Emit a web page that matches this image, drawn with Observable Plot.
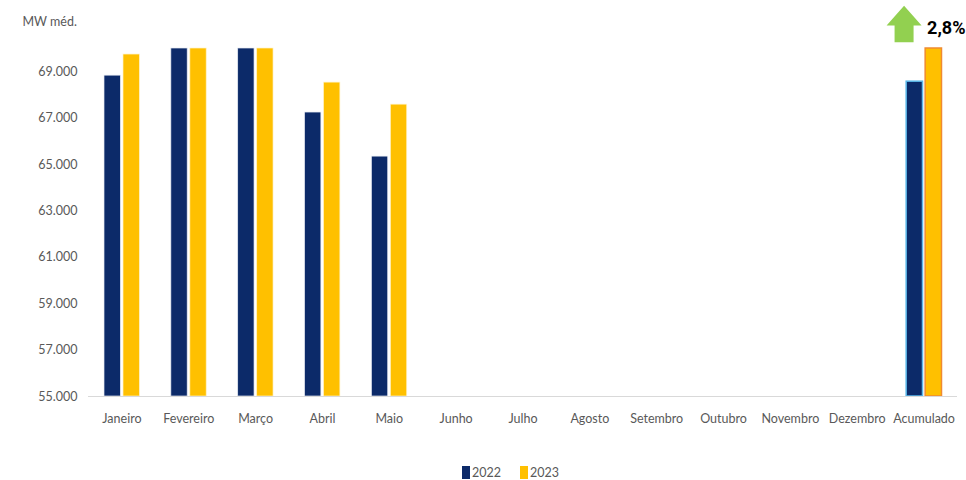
<!DOCTYPE html>
<html>
<head>
<meta charset="utf-8">
<script src="https://cdn.jsdelivr.net/npm/d3@7"></script>
<script src="https://cdn.jsdelivr.net/npm/@observablehq/plot@0.6"></script>
<style>
  body { margin: 0; background: #fff; font-family: Lato, "Liberation Sans", sans-serif; }
  #legend { display: flex; align-items: center; height: 44px; padding-left: 462px; font-size: 12.5px; color: #595959; }
  #legend .sw { display: inline-block; width: 8px; height: 13px; margin-right: 2px; }
  #legend .item { display: flex; align-items: center; margin-right: 19px; }
</style>
</head>
<body>
<div id="chart"></div>
<div id="legend"></div>
<script>
const months = ["Janeiro","Fevereiro","Março","Abril","Maio","Junho","Julho","Agosto","Setembro","Outubro","Novembro","Dezembro","Acumulado"];
const dataMonths = ["Janeiro","Fevereiro","Março","Abril","Maio","Acumulado"];
const values2022 = [68830, 70600, 70800, 67240, 65340, 68570];
const values2023 = [69740, 72900, 73700, 68530, 67580, 70490];
const years = ["2022", "2023"];
const yTicks = [55000, 57000, 59000, 61000, 63000, 65000, 67000, 69000];
const yDomain = [55000, 70000];
const changeLabel = "2,8%";
const yLabel = "MW méd.";
const colors = {"2022": "#0c2a69", "2023": "#ffc000"};
const accentStroke = {"2022": "#5bb8ea", "2023": "#f08a30"};

const rows2022 = dataMonths.map((m, i) => ({month: m, year: "2022", value: values2022[i]}));
const rows2023 = dataMonths.map((m, i) => ({month: m, year: "2023", value: values2023[i]}));

const ptbr = d3.formatLocale({decimal: ",", thousands: ".", grouping: [3], currency: ["R$", ""]});
const fmt = ptbr.format(",");

const arrowSymbol = {
  draw(context, size) {
    const r = Math.sqrt(size / Math.PI);
    const k = r / 18;
    context.moveTo(0, -18 * k);
    context.lineTo(17.5 * k, 1.7 * k);
    context.lineTo(9.5 * k, 1.7 * k);
    context.lineTo(9.5 * k, 18.5 * k);
    context.lineTo(-9.5 * k, 18.5 * k);
    context.lineTo(-9.5 * k, 1.7 * k);
    context.lineTo(-17.5 * k, 1.7 * k);
    context.closePath();
  }
};

const chart = Plot.plot({
  width: 966,
  height: 450,
  marginLeft: 88,
  marginRight: 9,
  marginTop: 48,
  marginBottom: 54,
  style: {fontSize: "12.5px", fontFamily: "Lato, 'Liberation Sans', sans-serif", color: "#595959", background: "#fff"},
  x: {domain: months, padding: 0, round: false, label: null, tickSize: 0, tickPadding: 18},
  y: {domain: yDomain, clamp: true, ticks: yTicks, tickFormat: fmt, label: null, tickSize: 0, tickPadding: 11},
  marks: [
    Plot.barY(rows2022, {x: "month", y: "value", fill: colors["2022"], insetLeft: 16, insetRight: 34.5,
      stroke: d => d.month === "Acumulado" ? accentStroke["2022"] : "#e8ecf4", strokeWidth: d => d.month === "Acumulado" ? 1.5 : 0.7}),
    Plot.barY(rows2023, {x: "month", y: "value", fill: colors["2023"], insetLeft: 35, insetRight: 15.5,
      stroke: d => d.month === "Acumulado" ? accentStroke["2023"] : "#fff3c8", strokeWidth: d => d.month === "Acumulado" ? 1.5 : 0.7}),
    Plot.ruleY([yDomain[0]], {stroke: "#d9d9d9", strokeWidth: 1}),
    Plot.dot([{month: "Acumulado"}], {x: "month", frameAnchor: "top", dx: -20, dy: -24.7, r: 18, symbol: arrowSymbol, fill: "#92d050", stroke: "none"}),
    Plot.text([changeLabel], {x: () => "Acumulado", text: d => d, frameAnchor: "top", lineAnchor: "middle", dx: 3, dy: -20.5, textAnchor: "start", fontSize: 18, fontWeight: "bold", fontFamily: "Roboto, 'Liberation Sans', sans-serif", fill: "#000"}),
    Plot.text([yLabel], {frameAnchor: "top-left", lineAnchor: "middle", text: d => d, dx: -66, dy: -26.5, textAnchor: "start", fontSize: 12.5, fill: "#595959"})
  ]
});
document.getElementById("chart").appendChild(chart);

const legend = document.getElementById("legend");
years.forEach(y => {
  const item = document.createElement("span");
  item.className = "item";
  item.innerHTML = `<span class="sw" style="background:${colors[y]}"></span><span>${y}</span>`;
  legend.appendChild(item);
});
</script>
</body>
</html>
